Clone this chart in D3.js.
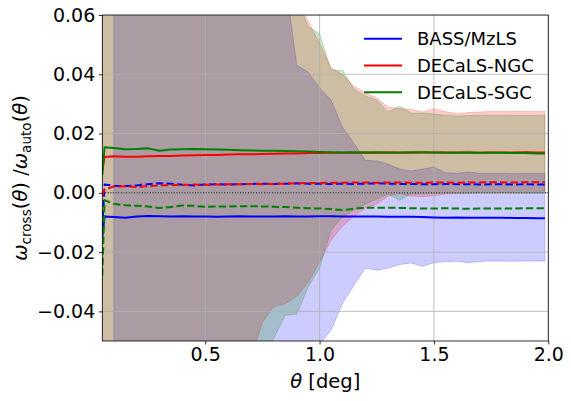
<!DOCTYPE html>
<html>
<head>
<meta charset="utf-8">
<script src="https://cdn.jsdelivr.net/npm/d3@7"></script>
<style>
body { margin: 0; background: #fff; }
text { font-family: "DejaVu Sans", sans-serif; fill: #000; }
</style>
</head>
<body>
<script>
// angular separation [deg]
var theta = [0.05, 0.06, 0.10, 0.15, 0.20, 0.25, 0.30, 0.35, 0.40, 0.45, 0.50, 0.55, 0.60, 0.65, 0.70,
  0.75, 0.80, 0.85, 0.90, 0.95, 1.00, 1.05, 1.10, 1.15, 1.20, 1.25, 1.30, 1.35, 1.40, 1.45, 1.50,
  1.55, 1.60, 1.65, 1.70, 1.75, 1.80, 1.85, 1.90, 1.95, 1.985]

// BASS/MzLS
var bassRatio = [-0.0150, -0.0080, -0.0082, -0.0084, -0.0080, -0.0078, -0.0079, -0.0080, -0.0079, -0.0080, -0.0080,
  -0.0081, -0.0080, -0.0079, -0.0080, -0.0080, -0.0080, -0.0079, -0.0080, -0.0080, -0.0079, -0.0079, -0.0080,
  -0.0080, -0.0080, -0.0080, -0.0081, -0.0081, -0.0081, -0.0082, -0.0083, -0.0084, -0.0083, -0.0084, -0.0084,
  -0.0084, -0.0084, -0.0085, -0.0085, -0.0086, -0.0086]
var bassDashed = [-0.0120, 0.0028, 0.0024, 0.0023, 0.0025, 0.0029, 0.0032, 0.0031, 0.0027, 0.0025, 0.0028,
  0.0029, 0.0028, 0.0029, 0.0030, 0.0031, 0.0030, 0.0031, 0.0032, 0.0031, 0.0031, 0.0030, 0.0031, 0.0030,
  0.0031, 0.0032, 0.0031, 0.0030, 0.0030, 0.0029, 0.0029, 0.0030, 0.0029, 0.0029, 0.0028, 0.0029, 0.0029,
  0.0028, 0.0029, 0.0028, 0.0028]
var bassHi = [null, null, 0.30, 0.28, 0.26, 0.25, 0.23, 0.22, 0.20, 0.19, 0.17, 0.16, 0.15, 0.13, 0.12,
  0.11, 0.10, 0.072, 0.0431, 0.0408, 0.0354, 0.0313, 0.0222, 0.0168, 0.0110, 0.0107, 0.0097, 0.0080, 0.0074,
  0.0080, 0.0087, 0.0068, 0.0066, 0.0070, 0.0066, 0.0066, 0.0066, 0.0065, 0.0066, 0.0066, 0.0066]
var bassLo = [null, null, -0.30, -0.28, -0.26, -0.25, -0.23, -0.21, -0.20, -0.18, -0.17, -0.15, -0.14, -0.13,
  -0.12, -0.10, -0.095, -0.085, -0.075, -0.060, -0.051, -0.0464, -0.0373, -0.0312, -0.0254, -0.0261, -0.0254,
  -0.0242, -0.0237, -0.0248, -0.0236, -0.0232, -0.0231, -0.0236, -0.0232, -0.0230, -0.0230, -0.0231, -0.0230,
  -0.0230, -0.0230]

// DECaLS-NGC
var ngcRatio = [0.0075, 0.0121, 0.0123, 0.0122, 0.0122, 0.0123, 0.0124, 0.0124, 0.0126, 0.0127, 0.0128,
  0.0128, 0.0129, 0.0130, 0.0130, 0.0131, 0.0132, 0.0133, 0.0133, 0.0134, 0.0134, 0.0135, 0.0135, 0.0135,
  0.0136, 0.0135, 0.0136, 0.0135, 0.0135, 0.0136, 0.0136, 0.0135, 0.0136, 0.0136, 0.0135, 0.0136, 0.0136,
  0.0136, 0.0137, 0.0136, 0.0136]
var ngcDashed = [-0.0010, 0.0012, 0.0021, 0.0022, 0.0020, 0.0022, 0.0025, 0.0026, 0.0027, 0.0028, 0.0027,
  0.0028, 0.0029, 0.0029, 0.0030, 0.0029, 0.0030, 0.0031, 0.0032, 0.0033, 0.0033, 0.0034, 0.0034, 0.0035,
  0.0035, 0.0034, 0.0035, 0.0035, 0.0034, 0.0034, 0.0035, 0.0035, 0.0034, 0.0035, 0.0035, 0.0036, 0.0035,
  0.0035, 0.0036, 0.0036, 0.0036]
var ngcHi = [0.40, 0.35, 0.32, 0.30, 0.28, 0.26, 0.25, 0.23, 0.21, 0.20, 0.18, 0.17, 0.15, 0.14, 0.12,
  0.11, 0.095, 0.075, 0.0654, 0.058, 0.0504, 0.0423, 0.0399, 0.0360, 0.0338, 0.0320, 0.0289, 0.0284, 0.0281,
  0.0273, 0.0284, 0.0274, 0.0267, 0.0271, 0.0273, 0.0274, 0.0274, 0.0275, 0.0274, 0.0274, 0.0274]
var ngcLo = [-0.40, -0.35, -0.32, -0.30, -0.28, -0.25, -0.23, -0.21, -0.19, -0.17, -0.15, -0.12, -0.10, -0.075,
  -0.056, -0.0437, -0.0383, -0.0375, -0.0349, -0.0303, -0.0234, -0.0160, -0.0113, -0.0079, -0.0052, -0.0038,
  -0.0011, -0.0003, -0.0011, -0.0013, -0.0010, -0.0004, -0.0002, 0.0000, 0.0001, 0.0001, 0.0001, 0.0001,
  0.0001, 0.0001, 0.0001]

// DECaLS-SGC
var sgcRatio = [0.0060, 0.0154, 0.0151, 0.0147, 0.0148, 0.0150, 0.0142, 0.0146, 0.0147, 0.0148, 0.0147,
  0.0146, 0.0145, 0.0144, 0.0143, 0.0142, 0.0142, 0.0141, 0.0140, 0.0139, 0.0138, 0.0137, 0.0136, 0.0137,
  0.0136, 0.0137, 0.0136, 0.0136, 0.0137, 0.0137, 0.0136, 0.0136, 0.0135, 0.0136, 0.0135, 0.0135, 0.0135,
  0.0134, 0.0134, 0.0133, 0.0133]
var sgcDashed = [-0.028, -0.0025, -0.0037, -0.0042, -0.0044, -0.0046, -0.0051, -0.0048, -0.0043, -0.0044, -0.0047,
  -0.0046, -0.0046, -0.0045, -0.0045, -0.0046, -0.0047, -0.0048, -0.0050, -0.0052, -0.0053, -0.0055, -0.0058,
  -0.0054, -0.0050, -0.0050, -0.0050, -0.0051, -0.0052, -0.0053, -0.0053, -0.0052, -0.0053, -0.0054, -0.0053,
  -0.0053, -0.0053, -0.0053, -0.0052, -0.0052, -0.0052]
var sgcHi = [0.42, 0.36, 0.33, 0.31, 0.29, 0.27, 0.25, 0.24, 0.22, 0.20, 0.19, 0.17, 0.16, 0.14, 0.13,
  0.11, 0.10, 0.085, 0.066, 0.056, 0.0538, 0.0414, 0.0414, 0.0350, 0.0327, 0.0313, 0.0273, 0.0293, 0.0269,
  0.0269, 0.0266, 0.0262, 0.0259, 0.0261, 0.0262, 0.0262, 0.0262, 0.0262, 0.0261, 0.0262, 0.0262]
var sgcLo = [-0.42, -0.36, -0.33, -0.31, -0.29, -0.26, -0.24, -0.22, -0.20, -0.18, -0.16, -0.14, -0.11, -0.09,
  -0.07, -0.058, -0.049, -0.0413, -0.041, -0.0318, -0.0254, -0.0126, -0.0082, -0.0058, -0.0038, -0.0021,
  -0.0004, -0.0025, -0.0004, -0.0004, -0.0002, -0.0001, -0.0001, -0.0002, -0.0001, -0.0001, -0.0001, -0.0001,
  -0.0001, -0.0001, -0.0001]

var names = ["BASS/MzLS", "DECaLS-NGC", "DECaLS-SGC"]
var colors = ["#0000ff", "#ff0000", "#008000"]
var xTicks = [0.5, 1.0, 1.5, 2.0]
var yTicks = [-0.04, -0.02, 0.00, 0.02, 0.04, 0.06]

var width = 571, height = 401,
    margin = { top: 15, right: 22.7, bottom: 60, left: 102.3 }

var x = d3.scaleLinear().domain([0.05, 2.0]).range([margin.left, width - margin.right])
var y = d3.scaleLinear().domain([-0.05, 0.06]).range([height - margin.bottom, margin.top])

var series = [
  { name: names[0], color: colors[0], ratio: bassRatio, dashed: bassDashed, lo: bassLo, hi: bassHi },
  { name: names[1], color: colors[1], ratio: ngcRatio, dashed: ngcDashed, lo: ngcLo, hi: ngcHi },
  { name: names[2], color: colors[2], ratio: sgcRatio, dashed: sgcDashed, lo: sgcLo, hi: sgcHi }
]

var svg = d3.select("body").append("svg")
    .attr("width", width)
    .attr("height", height)

svg.append("defs").append("clipPath").attr("id", "plot")
  .append("rect")
    .attr("x", x.range()[0]).attr("y", y.range()[1])
    .attr("width", x.range()[1] - x.range()[0])
    .attr("height", y.range()[0] - y.range()[1])

var plot = svg.append("g").attr("clip-path", "url(#plot)")

// error bands
var band = d3.area()
    .defined(function(d) { return d.lo != null })
    .x(function(d) { return x(d.t) })
    .y0(function(d) { return y(d.lo) })
    .y1(function(d) { return y(d.hi) })

series.forEach(function(s) {
  var pts = theta.map(function(t, i) { return { t: t, lo: s.lo[i], hi: s.hi[i] } })
  plot.append("path")
    .attr("d", band(pts))
    .attr("fill", s.color).attr("fill-opacity", 0.2)
    .attr("stroke", s.color).attr("stroke-opacity", 0.2).attr("stroke-width", 1)
})

// grid
plot.selectAll(".xgrid").data(xTicks).enter().append("line")
    .attr("x1", function(d) { return x(d) }).attr("x2", function(d) { return x(d) })
    .attr("y1", y.range()[0]).attr("y2", y.range()[1])
    .attr("stroke", "#b0b0b0").attr("stroke-width", 0.8)
plot.selectAll(".ygrid").data(yTicks).enter().append("line")
    .attr("y1", function(d) { return y(d) }).attr("y2", function(d) { return y(d) })
    .attr("x1", x.range()[0]).attr("x2", x.range()[1])
    .attr("stroke", "#b0b0b0").attr("stroke-width", 0.8)

// zero line
plot.append("line")
    .attr("x1", x.range()[0]).attr("x2", x.range()[1])
    .attr("y1", y(0)).attr("y2", y(0))
    .attr("stroke", "#000").attr("stroke-width", 1)
    .attr("stroke-dasharray", "1,1.65")

var line = d3.line()
    .x(function(d) { return x(d[0]) })
    .y(function(d) { return y(d[1]) })

series.forEach(function(s) {
  plot.append("path")
    .attr("d", line(d3.zip(theta, s.ratio)))
    .attr("fill", "none").attr("stroke", s.color).attr("stroke-width", 2)
    .attr("stroke-linejoin", "round")
  plot.append("path")
    .attr("d", line(d3.zip(theta, s.dashed)))
    .attr("fill", "none").attr("stroke", s.color).attr("stroke-width", 2)
    .attr("stroke-linejoin", "round")
    .attr("stroke-dasharray", "7.4,3.2")
})

// axes
var xAxis = svg.append("g")
    .attr("transform", "translate(0," + y.range()[0] + ")")
    .call(d3.axisBottom(x).tickValues(xTicks).tickFormat(d3.format(".1f")).tickSize(3.5).tickPadding(3.5))
var yAxis = svg.append("g")
    .attr("transform", "translate(" + x.range()[0] + ",0)")
    .call(d3.axisLeft(y).tickValues(yTicks).tickFormat(function(d) { return d3.format(".2f")(d).replace("-", "\u2212") })
      .tickSize(3.5).tickPadding(3.5))

;[xAxis, yAxis].forEach(function(a) {
  a.select(".domain").remove()
  a.selectAll(".tick line").attr("stroke", "#000").attr("stroke-width", 0.8)
  a.selectAll(".tick text").attr("fill", "#000")
    .style("font-family", "DejaVu Sans").style("font-size", "19px")
})

svg.append("rect")
    .attr("x", x.range()[0]).attr("y", y.range()[1])
    .attr("width", x.range()[1] - x.range()[0])
    .attr("height", y.range()[0] - y.range()[1])
    .attr("fill", "none").attr("stroke", "#000").attr("stroke-width", 0.8)

// axis labels
var xl = svg.append("text")
    .attr("x", (x.range()[0] + x.range()[1]) / 2)
    .attr("y", 388)
    .attr("text-anchor", "middle")
    .style("font-size", "19.5px")
xl.append("tspan").style("font-style", "italic").text("\u03b8")
xl.append("tspan").text(" [deg]")

var yl = svg.append("text")
    .attr("transform", "translate(27," + (y.range()[0] + y.range()[1]) / 2 + ") rotate(-90)")
    .attr("text-anchor", "middle")
    .style("font-size", "19.5px")
yl.append("tspan").style("font-style", "italic").text("\u03c9")
yl.append("tspan").attr("dy", 4).style("font-size", "13.6px").text("cross")
yl.append("tspan").attr("dy", -4).text("(")
yl.append("tspan").style("font-style", "italic").text("\u03b8")
yl.append("tspan").text(") /")
yl.append("tspan").style("font-style", "italic").text("\u03c9")
yl.append("tspan").attr("dy", 4).style("font-size", "13.6px").text("auto")
yl.append("tspan").attr("dy", -4).text("(")
yl.append("tspan").style("font-style", "italic").text("\u03b8")
yl.append("tspan").text(")")

// legend
var legend = svg.selectAll(".legend")
    .data(series)
    .enter().append("g")
    .attr("class", "legend")
    .attr("transform", function(d, i) { return "translate(364," + (38.7 + i * 26.8) + ")" })

legend.append("line")
    .attr("x1", 0).attr("x2", 38)
    .attr("stroke", function(d) { return d.color })
    .attr("stroke-width", 2)

legend.append("text")
    .attr("x", 53)
    .attr("y", 6.5)
    .style("font-size", "18px")
    .text(function(d) { return d.name })
</script>
</body>
</html>
